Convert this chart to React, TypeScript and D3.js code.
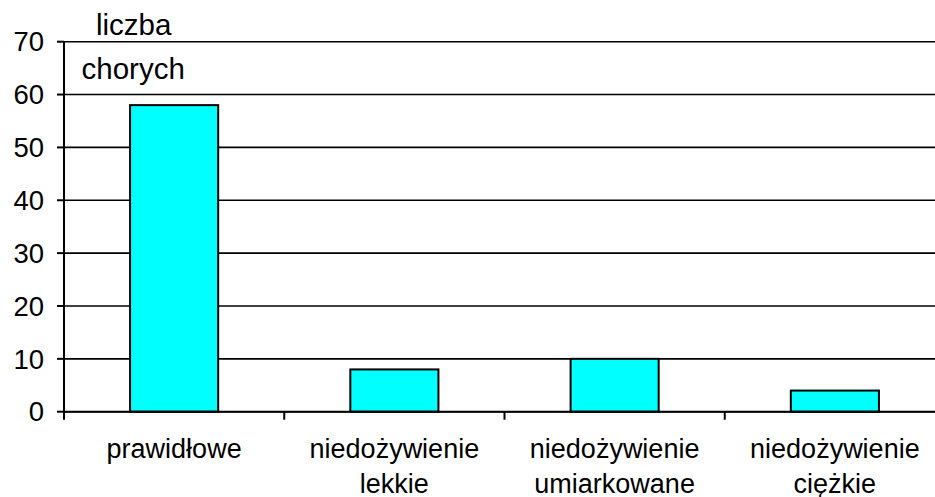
import React from "react";
import * as d3 from "d3";

const categories: string[][] = [
  ["prawidłowe"],
  ["niedożywienie", "lekkie"],
  ["niedożywienie", "umiarkowane"],
  ["niedożywienie", "ciężkie"],
];
const values: number[] = [58, 8, 10, 4];
const yTicks: number[] = [0, 10, 20, 30, 40, 50, 60, 70];
const axisTitle: string[] = ["liczba", "chorych"];

const W = 935;
const H = 497;
const left = 64;
const right = 945;
const top = 41.7;
const bottom = 411.7;
const font = "Arial, 'Liberation Sans', sans-serif";

export default function App() {
  const x = d3
    .scaleBand<number>()
    .domain(categories.map((_, i) => i))
    .range([left, right])
    .paddingInner(0)
    .paddingOuter(0);
  const y = d3.scaleLinear().domain([0, 70]).range([bottom, top]);
  const bw = x.bandwidth() * 0.4;
  const boundaries = categories.map((_, i) => x(i)!).concat([right]);

  return (
    <svg
      width={W}
      height={H}
      style={{ position: "absolute", left: 0, top: 0, background: "#fff" }}
      fontFamily={font}
    >
      {/* horizontal gridlines */}
      {yTicks.map((t) => (
        <line key={"g" + t} x1={left} x2={right} y1={y(t)} y2={y(t)} stroke="#000" strokeWidth={1.6} />
      ))}
      {/* bars */}
      {values.map((v, i) => {
        const cx = x(i)! + x.bandwidth() / 2;
        return (
          <rect
            key={"b" + i}
            x={cx - bw / 2}
            y={y(v)}
            width={bw}
            height={y(0) - y(v)}
            fill="#00FFFF"
            stroke="#000"
            strokeWidth={2}
          />
        );
      })}
      {/* y axis */}
      <line x1={left} x2={left} y1={top} y2={bottom} stroke="#000" strokeWidth={2} />
      {yTicks.map((t) => (
        <g key={"t" + t}>
          <line x1={left - 7} x2={left} y1={y(t)} y2={y(t)} stroke="#000" strokeWidth={2} />
          <text x={44} y={y(t) + 9.7} textAnchor="end" fontSize={27.5} fill="#000">
            {t}
          </text>
        </g>
      ))}
      {/* x axis */}
      <line x1={left} x2={right} y1={bottom} y2={bottom} stroke="#000" strokeWidth={2} />
      {boundaries.map((bx, i) => (
        <line key={"xt" + i} x1={bx} x2={bx} y1={bottom} y2={bottom + 8} stroke="#000" strokeWidth={2} />
      ))}
      {categories.map((lines, i) => {
        const cx = x(i)! + x.bandwidth() / 2;
        return (
          <text key={"c" + i} textAnchor="middle" fontSize={27} fill="#000">
            {lines.map((l, j) => (
              <tspan key={j} x={cx} y={458.3 + j * 34.4}>
                {l}
              </tspan>
            ))}
          </text>
        );
      })}
      {/* axis title */}
      <text x={96} y={35} fontSize={29.5} fill="#000">
        {axisTitle[0]}
      </text>
      <text x={81.5} y={79} fontSize={29.5} fill="#000">
        {axisTitle[1]}
      </text>
    </svg>
  );
}
